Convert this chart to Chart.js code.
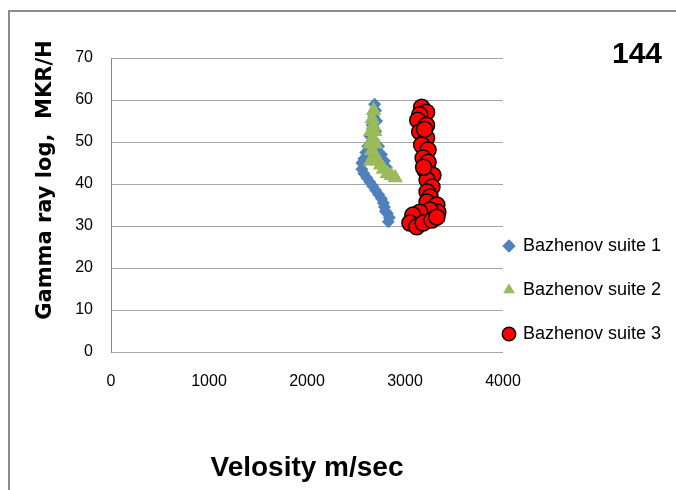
<!DOCTYPE html>
<html>
<head>
<meta charset="utf-8">
<script src="https://cdn.jsdelivr.net/npm/chart.js@4.4.1/dist/chart.umd.min.js"></script>
<style>
  html, body { margin: 0; padding: 0; background: #fff; }
</style>
</head>
<body>
<canvas id="chart-gamma" width="676" height="490"></canvas>
<script>
(function() {
    "use strict";

    // Velocity (m/sec) against gamma ray log (MKR/H), well 144
    var suite1Vel   = [2690, 2700, 2680, 2710, 2665, 2700, 2640, 2680, 2620, 2730, 2600, 2760, 2580, 2790, 2560,
                       2810, 2560, 2580, 2610, 2640, 2670, 2700, 2730, 2760, 2780, 2790, 2800, 2820, 2840, 2830];
    var suite1Gamma = [59, 57.5, 56, 55, 54, 52.5, 51.5, 50.5, 49, 49, 47.5, 47, 46, 45.5, 45,
                       44, 43.5, 42.5, 41.5, 40.5, 39.5, 38.5, 37.5, 36.5, 35.5, 34.5, 33.5, 33, 32, 31];

    var suite2Vel   = [2680, 2665, 2690, 2675, 2650, 2700, 2670, 2640, 2660, 2690, 2650, 2720, 2750, 2780, 2820, 2860, 2900];
    var suite2Gamma = [57.5, 55.5, 52.5, 54, 52.5, 49.5, 51, 49.5, 48, 47, 45.5, 45.5, 44.5, 43.5, 42.5, 42, 41.5];

    var suite3Vel   = [3170, 3220, 3150, 3130, 3220, 3150, 3220, 3170, 3235, 3185, 3235, 3205, 3285, 3225, 3275,
                       3225, 3255, 3225, 3325, 3335, 3255, 3150, 3080, 3050, 3120, 3185, 3275, 3325, 3200, 3190];
    var suite3Gamma = [58.3, 57.1, 56.5, 55.2, 54, 52.4, 51, 49.3, 48.1, 46.2, 45.2, 43.3, 42.1, 41, 39.3,
                       38.1, 36.9, 35.7, 35, 33.3, 33.8, 33.3, 32.6, 30.7, 29.8, 30.7, 31.4, 32.1, 53, 44];

    var seriesNames = ['Bazhenov suite 1', 'Bazhenov suite 2', 'Bazhenov suite 3'];
    var xTicks = [0, 1000, 2000, 3000, 4000];
    var yTicks = [0, 10, 20, 30, 40, 50, 60, 70];
    var wellLabel = '144';
    var xTitle = 'Velosity m/sec';
    var yTitle = 'Gamma ray log,  MKR/H';

    var sans = '"Liberation Sans", Arial, sans-serif';

    function pairs(xs, ys) {
        return xs.map(function(x, i) { return {x: x, y: ys[i]}; });
    }

    // frame, legend place, well number and rotated y title
    var extras = {
        id: 'extras',
        afterLayout: function(chart) {
            var lg = chart.legend;
            lg.left = 478;
            lg.right = 676;
            lg.top = 211;
            lg.bottom = 430;
        },
        beforeDraw: function(chart) {
            var ctx = chart.ctx;
            ctx.save();
            ctx.strokeStyle = '#8c8c8c';
            ctx.lineWidth = 2;
            ctx.beginPath();
            ctx.moveTo(9, 490);
            ctx.lineTo(9, 11);
            ctx.lineTo(676, 11);
            ctx.stroke();
            ctx.restore();
        },
        afterDraw: function(chart) {
            var ctx = chart.ctx;
            ctx.save();
            ctx.fillStyle = '#000';
            ctx.textAlign = 'right';
            ctx.textBaseline = 'middle';
            ctx.font = 'bold 30px ' + sans;
            ctx.fillText(wellLabel, 662, 55);
            ctx.translate(46, 180);
            ctx.rotate(-Math.PI / 2);
            ctx.textAlign = 'center';
            ctx.font = 'bold 21px "DejaVu Sans", sans-serif';
            ctx.fillText(yTitle, 0, 0);
            ctx.restore();
        }
    };

    var canvas = document.getElementById('chart-gamma').getContext('2d');

    new Chart(canvas, {
        type: 'scatter',
        data: {
            datasets: [{
                label: seriesNames[0],
                data: pairs(suite1Vel, suite1Gamma),
                pointStyle: 'rectRot',
                pointRadius: 6.5,
                backgroundColor: '#4F81BD',
                borderColor: '#4F81BD',
                borderWidth: 0,
                order: 3
            }, {
                label: seriesNames[1],
                data: pairs(suite2Vel, suite2Gamma),
                pointStyle: 'triangle',
                pointRadius: 9,
                backgroundColor: '#9BBB59',
                borderColor: '#9BBB59',
                borderWidth: 0,
                order: 2
            }, {
                label: seriesNames[2],
                data: pairs(suite3Vel, suite3Gamma),
                pointStyle: 'circle',
                pointRadius: 8,
                backgroundColor: '#FF0000',
                borderColor: '#000000',
                borderWidth: 1.5,
                order: 1
            }]
        },
        options: {
            responsive: false,
            animation: false,
            devicePixelRatio: 1,
            layout: { padding: { left: 0, top: 58, right: 0, bottom: 0 } },
            plugins: {
                tooltip: { enabled: false },
                legend: {
                    position: 'right',
                    align: 'start',
                    fullSize: false,
                    maxWidth: 173,
                    labels: {
                        usePointStyle: true,
                        boxWidth: 10,
                        boxHeight: 9.5,
                        padding: 26,
                        color: '#000',
                        font: { family: sans, size: 18 },
                        sort: function(a, b) { return a.datasetIndex - b.datasetIndex; }
                    }
                }
            },
            scales: {
                x: {
                    type: 'linear',
                    min: 0,
                    max: 4000,
                    afterBuildTicks: function(s) { s.ticks = xTicks.map(function(v) { return {value: v}; }); },
                    afterFit: function(s) { s.height = 138; },
                    grid: { display: false, drawTicks: false },
                    border: { display: false },
                    ticks: {
                        padding: 20,
                        color: '#000',
                        font: { family: sans, size: 16 },
                        callback: function(v) { return String(v); }
                    },
                    title: {
                        display: true,
                        text: xTitle,
                        color: '#000',
                        font: { family: sans, size: 28, weight: 'bold' },
                        padding: { top: 0, bottom: 5 }
                    }
                },
                y: {
                    type: 'linear',
                    min: 0,
                    max: 70,
                    afterBuildTicks: function(s) { s.ticks = yTicks.map(function(v) { return {value: v}; }); },
                    afterFit: function(s) { s.width = 111; },
                    grid: { color: '#a6a6a6', lineWidth: 1, drawTicks: false },
                    border: { display: true, color: '#868686', width: 1 },
                    ticks: {
                        padding: 18,
                        color: '#000',
                        font: { family: sans, size: 16 },
                        callback: function(v) { return String(v); }
                    }
                }
            }
        },
        plugins: [extras]
    });
})();
</script>
</body>
</html>
